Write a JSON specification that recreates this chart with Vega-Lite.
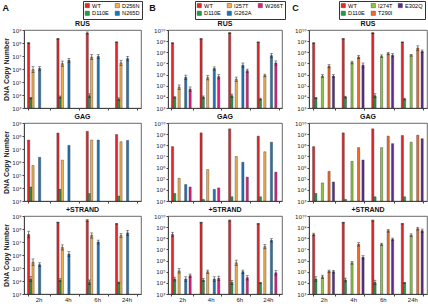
{
"$schema":"https://vega.github.io/schema/vega-lite/v6.json",
"padding":{"left":2,"right":3,"top":0,"bottom":1},
"spacing":6,
"resolve":{"scale":{"color":"independent"},"legend":{"color":"independent"}},
"datasets":{
"A":[
{"t":"RUS","h":"2h","m":"WT","v":1.0e8,"lo":8.9e7,"hi":1.12e8},
{"t":"RUS","h":"2h","m":"D110E","v":5.8e3,"lo":5.05e3,"hi":6.66e3},
{"t":"RUS","h":"2h","m":"D256N","v":9e5,"lo":5.4e5,"hi":1.5e6},
{"t":"RUS","h":"2h","m":"N265D","v":1.1e6,"lo":7.8e5,"hi":1.55e6},
{"t":"RUS","h":"4h","m":"WT","v":2.1e8,"lo":1.96e8,"hi":2.25e8},
{"t":"RUS","h":"4h","m":"D110E","v":7e3,"lo":5.8e3,"hi":8.4e3},
{"t":"RUS","h":"4h","m":"D256N","v":2.6e6,"lo":1.64e6,"hi":4.1e6},
{"t":"RUS","h":"4h","m":"N265D","v":4.7e6,"lo":3.3e6,"hi":6.6e6},
{"t":"RUS","h":"6h","m":"WT","v":5.9e8,"lo":4.9e8,"hi":7.1e8},
{"t":"RUS","h":"6h","m":"D110E","v":8.7e3,"lo":6.2e3,"hi":1.23e4},
{"t":"RUS","h":"6h","m":"D256N","v":8.3e6,"lo":5.2e6,"hi":1.3e7},
{"t":"RUS","h":"6h","m":"N265D","v":9.3e6,"lo":6.6e6,"hi":1.3e7},
{"t":"RUS","h":"24h","m":"WT","v":1.15e8,"lo":1.07e8,"hi":1.23e8},
{"t":"RUS","h":"24h","m":"D110E","v":4.8e3,"lo":3.8e3,"hi":6e3},
{"t":"RUS","h":"24h","m":"D256N","v":3e6,"lo":1.9e6,"hi":4.75e6},
{"t":"RUS","h":"24h","m":"N265D","v":6.3e6,"lo":4.3e6,"hi":9.3e6},
{"t":"GAG","h":"2h","m":"WT","v":4.9e7},
{"t":"GAG","h":"2h","m":"D110E","v":1.2e4},
{"t":"GAG","h":"2h","m":"D256N","v":5.4e5},
{"t":"GAG","h":"2h","m":"N265D","v":2.3e6},
{"t":"GAG","h":"4h","m":"WT","v":1.7e8},
{"t":"GAG","h":"4h","m":"D110E","v":8.1e3},
{"t":"GAG","h":"4h","m":"D256N","v":1.4e6},
{"t":"GAG","h":"4h","m":"N265D","v":1.9e7},
{"t":"GAG","h":"6h","m":"WT","v":2.3e8},
{"t":"GAG","h":"6h","m":"D110E","v":3.8e3},
{"t":"GAG","h":"6h","m":"D256N","v":4.9e7},
{"t":"GAG","h":"6h","m":"N265D","v":4.9e7},
{"t":"GAG","h":"24h","m":"WT","v":1.3e8},
{"t":"GAG","h":"24h","m":"D110E","v":2.4e3},
{"t":"GAG","h":"24h","m":"D256N","v":3.6e7},
{"t":"GAG","h":"24h","m":"N265D","v":4.6e7},
{"t":"STR","h":"2h","m":"WT","v":3.8e7,"lo":2.1e7,"hi":6.8e7},
{"t":"STR","h":"2h","m":"D110E","v":1.4e4,"lo":8.8e3,"hi":2.2e4},
{"t":"STR","h":"2h","m":"D256N","v":2.8e5,"lo":1.6e5,"hi":5e5},
{"t":"STR","h":"2h","m":"N265D","v":1.8e5,"lo":1.27e5,"hi":2.5e5},
{"t":"STR","h":"4h","m":"WT","v":3.2e8,"lo":3e8,"hi":3.4e8},
{"t":"STR","h":"4h","m":"D110E","v":1.2e4,"lo":9.5e3,"hi":1.5e4},
{"t":"STR","h":"4h","m":"D256N","v":3.8e6,"lo":2.4e6,"hi":6e6},
{"t":"STR","h":"4h","m":"N265D","v":1.2e6,"lo":8e5,"hi":1.8e6},
{"t":"STR","h":"6h","m":"WT","v":4.5e8,"lo":3.7e8,"hi":5.4e8},
{"t":"STR","h":"6h","m":"D110E","v":7.9e3,"lo":5.2e3,"hi":1.2e4},
{"t":"STR","h":"6h","m":"D256N","v":3.2e7,"lo":2e7,"hi":5e7},
{"t":"STR","h":"6h","m":"N265D","v":1e7,"lo":7e6,"hi":1.4e7},
{"t":"STR","h":"24h","m":"WT","v":2.5e8,"lo":2.4e8,"hi":2.6e8},
{"t":"STR","h":"24h","m":"D110E","v":7.5e3,"lo":6.7e3,"hi":8.4e3},
{"t":"STR","h":"24h","m":"D256N","v":3.2e7,"lo":2.3e7,"hi":4.5e7},
{"t":"STR","h":"24h","m":"N265D","v":5e7,"lo":3.2e7,"hi":8e7}
],
"B":[
{"t":"RUS","h":"2h","m":"WT","v":6.6e8,"lo":6e8,"hi":7.2e8},
{"t":"RUS","h":"2h","m":"D110E","v":9e3,"lo":7.8e3,"hi":1.03e4},
{"t":"RUS","h":"2h","m":"I257T","v":7.4e4,"lo":4.7e4,"hi":1.17e5},
{"t":"RUS","h":"2h","m":"G262A","v":5.6e5,"lo":3.5e5,"hi":8.9e5},
{"t":"RUS","h":"2h","m":"W266T","v":4.9e4,"lo":3.1e4,"hi":7.8e4},
{"t":"RUS","h":"4h","m":"WT","v":1.6e9,"lo":1.53e9,"hi":1.68e9},
{"t":"RUS","h":"4h","m":"D110E","v":9.5e3,"lo":7.5e3,"hi":1.2e4},
{"t":"RUS","h":"4h","m":"I257T","v":5.3e5,"lo":3.3e5,"hi":8.4e5},
{"t":"RUS","h":"4h","m":"G262A","v":3.5e6,"lo":2.5e6,"hi":4.9e6},
{"t":"RUS","h":"4h","m":"W266T","v":6.5e5,"lo":4.1e5,"hi":1e6},
{"t":"RUS","h":"6h","m":"WT","v":5.4e9,"lo":4.7e9,"hi":6.2e9},
{"t":"RUS","h":"6h","m":"D110E","v":1.26e4,"lo":8.9e3,"hi":1.8e4},
{"t":"RUS","h":"6h","m":"I257T","v":3.8e5,"lo":2.4e5,"hi":6e5},
{"t":"RUS","h":"6h","m":"G262A","v":6.9e6,"lo":4.4e6,"hi":1.1e7},
{"t":"RUS","h":"6h","m":"W266T","v":2.2e6,"lo":1.56e6,"hi":3.1e6},
{"t":"RUS","h":"24h","m":"WT","v":8.1e8,"lo":7.7e8,"hi":8.5e8},
{"t":"RUS","h":"24h","m":"D110E","v":6.3e3,"lo":5.2e3,"hi":7.6e3},
{"t":"RUS","h":"24h","m":"I257T","v":8.3e5,"lo":6.3e5,"hi":1.1e6},
{"t":"RUS","h":"24h","m":"G262A","v":5e7,"lo":3.2e7,"hi":7.9e7},
{"t":"RUS","h":"24h","m":"W266T","v":1.1e7,"lo":7e6,"hi":1.7e7},
{"t":"GAG","h":"2h","m":"WT","v":7.6e7},
{"t":"GAG","h":"2h","m":"D110E","v":4.8e3},
{"t":"GAG","h":"2h","m":"I257T","v":1.1e5},
{"t":"GAG","h":"2h","m":"G262A","v":3e4},
{"t":"GAG","h":"2h","m":"W266T","v":1.8e4},
{"t":"GAG","h":"4h","m":"WT","v":1.3e9},
{"t":"GAG","h":"4h","m":"D110E","v":1.4e3},
{"t":"GAG","h":"4h","m":"I257T","v":6.6e5},
{"t":"GAG","h":"4h","m":"G262A","v":1.1e4},
{"t":"GAG","h":"4h","m":"W266T","v":1.5e4},
{"t":"GAG","h":"6h","m":"WT","v":3e9},
{"t":"GAG","h":"6h","m":"D110E","v":2.4e3},
{"t":"GAG","h":"6h","m":"I257T","v":1e7},
{"t":"GAG","h":"6h","m":"G262A","v":3e6},
{"t":"GAG","h":"6h","m":"W266T","v":1.4e5},
{"t":"GAG","h":"24h","m":"WT","v":6.6e8},
{"t":"GAG","h":"24h","m":"D110E","v":2.4e3},
{"t":"GAG","h":"24h","m":"I257T","v":2.6e7},
{"t":"GAG","h":"24h","m":"G262A","v":1.9e8},
{"t":"GAG","h":"24h","m":"W266T","v":3.9e5},
{"t":"STR","h":"2h","m":"WT","v":2.2e8,"lo":1.4e8,"hi":3.5e8},
{"t":"STR","h":"2h","m":"D110E","v":2.2e4,"lo":1.45e4,"hi":3.3e4},
{"t":"STR","h":"2h","m":"I257T","v":1.2e5,"lo":7.6e4,"hi":1.9e5},
{"t":"STR","h":"2h","m":"G262A","v":2.2e4,"lo":1.4e4,"hi":3.5e4},
{"t":"STR","h":"2h","m":"W266T","v":4.4e4,"lo":3.1e4,"hi":6.2e4},
{"t":"STR","h":"4h","m":"WT","v":2.6e9,"lo":2.4e9,"hi":2.8e9},
{"t":"STR","h":"4h","m":"D110E","v":1.8e4,"lo":1.27e4,"hi":2.5e4},
{"t":"STR","h":"4h","m":"I257T","v":9.8e4,"lo":6.9e4,"hi":1.4e5},
{"t":"STR","h":"4h","m":"G262A","v":2.2e4,"lo":1.4e4,"hi":3.5e4},
{"t":"STR","h":"4h","m":"W266T","v":2.5e4,"lo":1.6e4,"hi":4e4},
{"t":"STR","h":"6h","m":"WT","v":3.9e9,"lo":3.5e9,"hi":4.4e9},
{"t":"STR","h":"6h","m":"D110E","v":1.1e4,"lo":7.3e3,"hi":1.66e4},
{"t":"STR","h":"6h","m":"I257T","v":6.3e5,"lo":3.5e5,"hi":1.1e6},
{"t":"STR","h":"6h","m":"G262A","v":1e5,"lo":7e4,"hi":1.4e5},
{"t":"STR","h":"6h","m":"W266T","v":2.9e4,"lo":1.8e4,"hi":4.6e4},
{"t":"STR","h":"24h","m":"WT","v":2e9,"lo":1.9e9,"hi":2.1e9},
{"t":"STR","h":"24h","m":"D110E","v":1e4,"lo":8.9e3,"hi":1.12e4},
{"t":"STR","h":"24h","m":"I257T","v":1.8e7,"lo":1.14e7,"hi":2.85e7},
{"t":"STR","h":"24h","m":"G262A","v":6.5e7,"lo":4.6e7,"hi":9.2e7},
{"t":"STR","h":"24h","m":"W266T","v":8e4,"lo":5e4,"hi":1.27e5}
],
"C":[
{"t":"RUS","h":"2h","m":"WT","v":6.6e8,"lo":6e8,"hi":7.2e8},
{"t":"RUS","h":"2h","m":"D110E","v":7.9e3,"lo":6.9e3,"hi":9e3},
{"t":"RUS","h":"2h","m":"I274T","v":7.4e5,"lo":5.6e5,"hi":9.8e5},
{"t":"RUS","h":"2h","m":"T290I","v":5.7e6,"lo":4e6,"hi":8e6},
{"t":"RUS","h":"2h","m":"E302Q","v":7.4e5,"lo":5.6e5,"hi":9.8e5},
{"t":"RUS","h":"4h","m":"WT","v":1.6e9,"lo":1.53e9,"hi":1.68e9},
{"t":"RUS","h":"4h","m":"D110E","v":9.5e3,"lo":7.9e3,"hi":1.14e4},
{"t":"RUS","h":"4h","m":"I274T","v":1.2e7,"lo":9.1e6,"hi":1.6e7},
{"t":"RUS","h":"4h","m":"T290I","v":3.8e7,"lo":2.7e7,"hi":5.4e7},
{"t":"RUS","h":"4h","m":"E302Q","v":6.9e6,"lo":4.4e6,"hi":1.1e7},
{"t":"RUS","h":"6h","m":"WT","v":5.4e9,"lo":4.7e9,"hi":6.2e9},
{"t":"RUS","h":"6h","m":"D110E","v":1.26e4,"lo":8.3e3,"hi":1.9e4},
{"t":"RUS","h":"6h","m":"I274T","v":4.4e7,"lo":3.3e7,"hi":5.8e7},
{"t":"RUS","h":"6h","m":"T290I","v":7.6e7,"lo":6e7,"hi":9.6e7},
{"t":"RUS","h":"6h","m":"E302Q","v":5.4e7,"lo":3.8e7,"hi":7.6e7},
{"t":"RUS","h":"24h","m":"WT","v":8.1e8,"lo":7.7e8,"hi":8.5e8},
{"t":"RUS","h":"24h","m":"D110E","v":6.3e3,"lo":5.2e3,"hi":7.6e3},
{"t":"RUS","h":"24h","m":"I274T","v":5.4e7,"lo":4.5e7,"hi":6.5e7},
{"t":"RUS","h":"24h","m":"T290I","v":2.4e8,"lo":1.5e8,"hi":3.8e8},
{"t":"RUS","h":"24h","m":"E302Q","v":1.2e8,"lo":9.1e7,"hi":1.6e8},
{"t":"GAG","h":"2h","m":"WT","v":7.6e7},
{"t":"GAG","h":"2h","m":"D110E","v":4.8e3},
{"t":"GAG","h":"2h","m":"I274T","v":4.2e4},
{"t":"GAG","h":"2h","m":"T290I","v":4.5e5},
{"t":"GAG","h":"2h","m":"E302Q","v":5.1e4},
{"t":"GAG","h":"4h","m":"WT","v":1.3e9},
{"t":"GAG","h":"4h","m":"D110E","v":1.4e3},
{"t":"GAG","h":"4h","m":"I274T","v":3.6e6},
{"t":"GAG","h":"4h","m":"T290I","v":6.2e7},
{"t":"GAG","h":"4h","m":"E302Q","v":4.8e6},
{"t":"GAG","h":"6h","m":"WT","v":3e9},
{"t":"GAG","h":"6h","m":"D110E","v":2.4e3},
{"t":"GAG","h":"6h","m":"I274T","v":6.2e7},
{"t":"GAG","h":"6h","m":"T290I","v":6.6e8},
{"t":"GAG","h":"6h","m":"E302Q","v":1.4e8},
{"t":"GAG","h":"24h","m":"WT","v":7.6e8},
{"t":"GAG","h":"24h","m":"D110E","v":2.4e3},
{"t":"GAG","h":"24h","m":"I274T","v":1.9e8},
{"t":"GAG","h":"24h","m":"T290I","v":8.1e8},
{"t":"GAG","h":"24h","m":"E302Q","v":3.9e8},
{"t":"STR","h":"2h","m":"WT","v":2.2e8,"lo":1.67e8,"hi":2.9e8},
{"t":"STR","h":"2h","m":"D110E","v":2.2e4,"lo":1.4e4,"hi":3.5e4},
{"t":"STR","h":"2h","m":"I274T","v":3.5e4,"lo":2.5e4,"hi":4.9e4},
{"t":"STR","h":"2h","m":"T290I","v":1.1e5,"lo":8.7e4,"hi":1.4e5},
{"t":"STR","h":"2h","m":"E302Q","v":1e5,"lo":7.6e4,"hi":1.3e5},
{"t":"STR","h":"4h","m":"WT","v":2.6e9,"lo":2.4e9,"hi":2.8e9},
{"t":"STR","h":"4h","m":"D110E","v":1.8e4,"lo":1.2e4,"hi":2.7e4},
{"t":"STR","h":"4h","m":"I274T","v":6.3e5,"lo":4.8e5,"hi":8.3e5},
{"t":"STR","h":"4h","m":"T290I","v":2.9e7,"lo":2e7,"hi":4.1e7},
{"t":"STR","h":"4h","m":"E302Q","v":2e6,"lo":1.4e6,"hi":2.8e6},
{"t":"STR","h":"6h","m":"WT","v":3.9e9,"lo":3.5e9,"hi":4.4e9},
{"t":"STR","h":"6h","m":"D110E","v":1.1e4,"lo":7e3,"hi":1.74e4},
{"t":"STR","h":"6h","m":"I274T","v":2.9e7,"lo":2.3e7,"hi":3.65e7},
{"t":"STR","h":"6h","m":"T290I","v":4.8e8,"lo":3.6e8,"hi":6.3e8},
{"t":"STR","h":"6h","m":"E302Q","v":8e7,"lo":6.1e7,"hi":1.05e8},
{"t":"STR","h":"24h","m":"WT","v":2e9,"lo":1.9e9,"hi":2.1e9},
{"t":"STR","h":"24h","m":"D110E","v":1e4,"lo":8.9e3,"hi":1.12e4},
{"t":"STR","h":"24h","m":"I274T","v":1.9e8,"lo":1.44e8,"hi":2.5e8},
{"t":"STR","h":"24h","m":"T290I","v":7.2e8,"lo":5.5e8,"hi":9.5e8},
{"t":"STR","h":"24h","m":"E302Q","v":4.8e8,"lo":3.4e8,"hi":6.8e8}
]
},
"hconcat":[
{"title":{"text":"A","anchor":"start","fontSize":9,"fontWeight":"bold","dx":0,"offset":-12},
 "spacing":0,
 "vconcat":[
  {"title":"RUS","width":117,"height":78,"data":{"name":"A"},"transform":[{"filter":"datum.t=='RUS'"}],
   "encoding":{"x":{"field":"h","type":"nominal","sort":["2h","4h","6h","24h"],"scale":{"paddingInner":0.25,"paddingOuter":0.12},"axis":{"labels":false}},
     "xOffset":{"field":"m","type":"nominal","sort":["WT","D110E","D256N","N265D"]}},
   "layer":[
    {"mark":{"type":"bar","stroke":"#333","strokeWidth":0.4},"encoding":{
      "y":{"field":"v","type":"quantitative","scale":{"type":"log","domain":[1000,1e9],"nice":false},"axis":{"title":"DNA Copy Number","values":[1e3,1e4,1e5,1e6,1e7,1e8,1e9]}},
      "y2":{"datum":1000},
      "color":{"field":"m","type":"nominal","scale":{"domain":["WT","D110E","D256N","N265D"],"range":["#E3262B","#1A9E4B","#F7B04B","#1C75BC"]},"legend":{"title":null,"columns":2,"legendX":59,"legendY":-29}}}},
    {"mark":{"type":"rule","color":"#222","strokeWidth":0.6},"encoding":{"y":{"field":"lo","type":"quantitative","scale":{"type":"log","domain":[1000,1e9],"nice":false},"axis":{"title":"DNA Copy Number","values":[1e3,1e4,1e5,1e6,1e7,1e8,1e9]}},"y2":{"field":"hi"}}},
    {"mark":{"type":"tick","color":"#222","size":3,"thickness":0.6},"encoding":{"y":{"field":"lo","type":"quantitative","scale":{"type":"log","domain":[1000,1e9],"nice":false},"axis":{"title":"DNA Copy Number","values":[1e3,1e4,1e5,1e6,1e7,1e8,1e9]}}}},
    {"mark":{"type":"tick","color":"#222","size":3,"thickness":0.6},"encoding":{"y":{"field":"hi","type":"quantitative","scale":{"type":"log","domain":[1000,1e9],"nice":false},"axis":{"title":"DNA Copy Number","values":[1e3,1e4,1e5,1e6,1e7,1e8,1e9]}}}}
   ]},
  {"title":"GAG","width":117,"height":78,"data":{"name":"A"},"transform":[{"filter":"datum.t=='GAG'"}],
   "encoding":{"x":{"field":"h","type":"nominal","sort":["2h","4h","6h","24h"],"scale":{"paddingInner":0.25,"paddingOuter":0.12},"axis":{"labels":false}},
     "xOffset":{"field":"m","type":"nominal","sort":["WT","D110E","D256N","N265D"]}},
   "layer":[
    {"mark":{"type":"bar","stroke":"#333","strokeWidth":0.4},"encoding":{
      "y":{"field":"v","type":"quantitative","scale":{"type":"log","domain":[1000,1e9],"nice":false},"axis":{"title":"DNA Copy Number","values":[1e3,1e4,1e5,1e6,1e7,1e8,1e9]}},
      "y2":{"datum":1000},
      "color":{"field":"m","type":"nominal","scale":{"domain":["WT","D110E","D256N","N265D"],"range":["#E3262B","#1A9E4B","#F7B04B","#1C75BC"]},"legend":{"title":null,"columns":2,"legendX":59,"legendY":-29}}}}
   ]},
  {"title":"+STRAND","width":117,"height":78,"data":{"name":"A"},"transform":[{"filter":"datum.t=='STR'"}],
   "encoding":{"x":{"field":"h","type":"nominal","sort":["2h","4h","6h","24h"],"scale":{"paddingInner":0.25,"paddingOuter":0.12},"axis":{"labels":true}},
     "xOffset":{"field":"m","type":"nominal","sort":["WT","D110E","D256N","N265D"]}},
   "layer":[
    {"mark":{"type":"bar","stroke":"#333","strokeWidth":0.4},"encoding":{
      "y":{"field":"v","type":"quantitative","scale":{"type":"log","domain":[1000,1e9],"nice":false},"axis":{"title":"DNA Copy Number","values":[1e3,1e4,1e5,1e6,1e7,1e8,1e9]}},
      "y2":{"datum":1000},
      "color":{"field":"m","type":"nominal","scale":{"domain":["WT","D110E","D256N","N265D"],"range":["#E3262B","#1A9E4B","#F7B04B","#1C75BC"]},"legend":{"title":null,"columns":2,"legendX":59,"legendY":-29}}}},
    {"mark":{"type":"rule","color":"#222","strokeWidth":0.6},"encoding":{"y":{"field":"lo","type":"quantitative","scale":{"type":"log","domain":[1000,1e9],"nice":false},"axis":{"title":"DNA Copy Number","values":[1e3,1e4,1e5,1e6,1e7,1e8,1e9]}},"y2":{"field":"hi"}}},
    {"mark":{"type":"tick","color":"#222","size":3,"thickness":0.6},"encoding":{"y":{"field":"lo","type":"quantitative","scale":{"type":"log","domain":[1000,1e9],"nice":false},"axis":{"title":"DNA Copy Number","values":[1e3,1e4,1e5,1e6,1e7,1e8,1e9]}}}},
    {"mark":{"type":"tick","color":"#222","size":3,"thickness":0.6},"encoding":{"y":{"field":"hi","type":"quantitative","scale":{"type":"log","domain":[1000,1e9],"nice":false},"axis":{"title":"DNA Copy Number","values":[1e3,1e4,1e5,1e6,1e7,1e8,1e9]}}}}
   ]}
 ]},
{"title":{"text":"B","anchor":"start","fontSize":9,"fontWeight":"bold","dx":-4,"offset":-12},
 "spacing":0,
 "vconcat":[
  {"title":"RUS","width":114,"height":78,"data":{"name":"B"},"transform":[{"filter":"datum.t=='RUS'"}],
   "encoding":{"x":{"field":"h","type":"nominal","sort":["2h","4h","6h","24h"],"scale":{"paddingInner":0.25,"paddingOuter":0.12},"axis":{"labels":false}},
     "xOffset":{"field":"m","type":"nominal","sort":["WT","D110E","I257T","G262A","W266T"]}},
   "layer":[
    {"mark":{"type":"bar","stroke":"#333","strokeWidth":0.4},"encoding":{
      "y":{"field":"v","type":"quantitative","scale":{"type":"log","domain":[1000,1e10],"nice":false},"axis":{"title":null,"values":[1e3,1e4,1e5,1e6,1e7,1e8,1e9,1e10]}},
      "y2":{"datum":1000},
      "color":{"field":"m","type":"nominal","scale":{"domain":["WT","D110E","I257T","G262A","W266T"],"range":["#E3262B","#1A9E4B","#F7B04B","#1C75BC","#E6197F"]},"legend":{"title":null,"columns":3,"legendX":27,"legendY":-29}}}},
    {"mark":{"type":"rule","color":"#222","strokeWidth":0.6},"encoding":{"y":{"field":"lo","type":"quantitative","scale":{"type":"log","domain":[1000,1e10],"nice":false},"axis":{"title":null,"values":[1e3,1e4,1e5,1e6,1e7,1e8,1e9,1e10]}},"y2":{"field":"hi"}}},
    {"mark":{"type":"tick","color":"#222","size":3,"thickness":0.6},"encoding":{"y":{"field":"lo","type":"quantitative","scale":{"type":"log","domain":[1000,1e10],"nice":false},"axis":{"title":null,"values":[1e3,1e4,1e5,1e6,1e7,1e8,1e9,1e10]}}}},
    {"mark":{"type":"tick","color":"#222","size":3,"thickness":0.6},"encoding":{"y":{"field":"hi","type":"quantitative","scale":{"type":"log","domain":[1000,1e10],"nice":false},"axis":{"title":null,"values":[1e3,1e4,1e5,1e6,1e7,1e8,1e9,1e10]}}}}
   ]},
  {"title":"GAG","width":114,"height":78,"data":{"name":"B"},"transform":[{"filter":"datum.t=='GAG'"}],
   "encoding":{"x":{"field":"h","type":"nominal","sort":["2h","4h","6h","24h"],"scale":{"paddingInner":0.25,"paddingOuter":0.12},"axis":{"labels":false}},
     "xOffset":{"field":"m","type":"nominal","sort":["WT","D110E","I257T","G262A","W266T"]}},
   "layer":[
    {"mark":{"type":"bar","stroke":"#333","strokeWidth":0.4},"encoding":{
      "y":{"field":"v","type":"quantitative","scale":{"type":"log","domain":[1000,1e10],"nice":false},"axis":{"title":null,"values":[1e3,1e4,1e5,1e6,1e7,1e8,1e9,1e10]}},
      "y2":{"datum":1000},
      "color":{"field":"m","type":"nominal","scale":{"domain":["WT","D110E","I257T","G262A","W266T"],"range":["#E3262B","#1A9E4B","#F7B04B","#1C75BC","#E6197F"]},"legend":{"title":null,"columns":3,"legendX":27,"legendY":-29}}}}
   ]},
  {"title":"+STRAND","width":114,"height":78,"data":{"name":"B"},"transform":[{"filter":"datum.t=='STR'"}],
   "encoding":{"x":{"field":"h","type":"nominal","sort":["2h","4h","6h","24h"],"scale":{"paddingInner":0.25,"paddingOuter":0.12},"axis":{"labels":true}},
     "xOffset":{"field":"m","type":"nominal","sort":["WT","D110E","I257T","G262A","W266T"]}},
   "layer":[
    {"mark":{"type":"bar","stroke":"#333","strokeWidth":0.4},"encoding":{
      "y":{"field":"v","type":"quantitative","scale":{"type":"log","domain":[1000,1e10],"nice":false},"axis":{"title":null,"values":[1e3,1e4,1e5,1e6,1e7,1e8,1e9,1e10]}},
      "y2":{"datum":1000},
      "color":{"field":"m","type":"nominal","scale":{"domain":["WT","D110E","I257T","G262A","W266T"],"range":["#E3262B","#1A9E4B","#F7B04B","#1C75BC","#E6197F"]},"legend":{"title":null,"columns":3,"legendX":27,"legendY":-29}}}},
    {"mark":{"type":"rule","color":"#222","strokeWidth":0.6},"encoding":{"y":{"field":"lo","type":"quantitative","scale":{"type":"log","domain":[1000,1e10],"nice":false},"axis":{"title":null,"values":[1e3,1e4,1e5,1e6,1e7,1e8,1e9,1e10]}},"y2":{"field":"hi"}}},
    {"mark":{"type":"tick","color":"#222","size":3,"thickness":0.6},"encoding":{"y":{"field":"lo","type":"quantitative","scale":{"type":"log","domain":[1000,1e10],"nice":false},"axis":{"title":null,"values":[1e3,1e4,1e5,1e6,1e7,1e8,1e9,1e10]}}}},
    {"mark":{"type":"tick","color":"#222","size":3,"thickness":0.6},"encoding":{"y":{"field":"hi","type":"quantitative","scale":{"type":"log","domain":[1000,1e10],"nice":false},"axis":{"title":null,"values":[1e3,1e4,1e5,1e6,1e7,1e8,1e9,1e10]}}}}
   ]}
 ]},
{"title":{"text":"C","anchor":"start","fontSize":9,"fontWeight":"bold","dx":-2,"offset":-12},
 "spacing":0,
 "vconcat":[
  {"title":"RUS","width":118,"height":78,"data":{"name":"C"},"transform":[{"filter":"datum.t=='RUS'"}],
   "encoding":{"x":{"field":"h","type":"nominal","sort":["2h","4h","6h","24h"],"scale":{"paddingInner":0.25,"paddingOuter":0.12},"axis":{"labels":false}},
     "xOffset":{"field":"m","type":"nominal","sort":["WT","D110E","I274T","T290I","E302Q"]}},
   "layer":[
    {"mark":{"type":"bar","stroke":"#333","strokeWidth":0.4},"encoding":{
      "y":{"field":"v","type":"quantitative","scale":{"type":"log","domain":[1000,1e10],"nice":false},"axis":{"title":null,"values":[1e3,1e4,1e5,1e6,1e7,1e8,1e9,1e10]}},
      "y2":{"datum":1000},
      "color":{"field":"m","type":"nominal","scale":{"domain":["WT","D110E","I274T","T290I","E302Q"],"range":["#E3262B","#1A9E4B","#8DC63F","#F26B2A","#5B2D90"]},"legend":{"title":null,"columns":3,"legendX":30,"legendY":-29}}}},
    {"mark":{"type":"rule","color":"#222","strokeWidth":0.6},"encoding":{"y":{"field":"lo","type":"quantitative","scale":{"type":"log","domain":[1000,1e10],"nice":false},"axis":{"title":null,"values":[1e3,1e4,1e5,1e6,1e7,1e8,1e9,1e10]}},"y2":{"field":"hi"}}},
    {"mark":{"type":"tick","color":"#222","size":3,"thickness":0.6},"encoding":{"y":{"field":"lo","type":"quantitative","scale":{"type":"log","domain":[1000,1e10],"nice":false},"axis":{"title":null,"values":[1e3,1e4,1e5,1e6,1e7,1e8,1e9,1e10]}}}},
    {"mark":{"type":"tick","color":"#222","size":3,"thickness":0.6},"encoding":{"y":{"field":"hi","type":"quantitative","scale":{"type":"log","domain":[1000,1e10],"nice":false},"axis":{"title":null,"values":[1e3,1e4,1e5,1e6,1e7,1e8,1e9,1e10]}}}}
   ]},
  {"title":"GAG","width":118,"height":78,"data":{"name":"C"},"transform":[{"filter":"datum.t=='GAG'"}],
   "encoding":{"x":{"field":"h","type":"nominal","sort":["2h","4h","6h","24h"],"scale":{"paddingInner":0.25,"paddingOuter":0.12},"axis":{"labels":false}},
     "xOffset":{"field":"m","type":"nominal","sort":["WT","D110E","I274T","T290I","E302Q"]}},
   "layer":[
    {"mark":{"type":"bar","stroke":"#333","strokeWidth":0.4},"encoding":{
      "y":{"field":"v","type":"quantitative","scale":{"type":"log","domain":[1000,1e10],"nice":false},"axis":{"title":null,"values":[1e3,1e4,1e5,1e6,1e7,1e8,1e9,1e10]}},
      "y2":{"datum":1000},
      "color":{"field":"m","type":"nominal","scale":{"domain":["WT","D110E","I274T","T290I","E302Q"],"range":["#E3262B","#1A9E4B","#8DC63F","#F26B2A","#5B2D90"]},"legend":{"title":null,"columns":3,"legendX":30,"legendY":-29}}}}
   ]},
  {"title":"+STRAND","width":118,"height":78,"data":{"name":"C"},"transform":[{"filter":"datum.t=='STR'"}],
   "encoding":{"x":{"field":"h","type":"nominal","sort":["2h","4h","6h","24h"],"scale":{"paddingInner":0.25,"paddingOuter":0.12},"axis":{"labels":true}},
     "xOffset":{"field":"m","type":"nominal","sort":["WT","D110E","I274T","T290I","E302Q"]}},
   "layer":[
    {"mark":{"type":"bar","stroke":"#333","strokeWidth":0.4},"encoding":{
      "y":{"field":"v","type":"quantitative","scale":{"type":"log","domain":[1000,1e10],"nice":false},"axis":{"title":null,"values":[1e3,1e4,1e5,1e6,1e7,1e8,1e9,1e10]}},
      "y2":{"datum":1000},
      "color":{"field":"m","type":"nominal","scale":{"domain":["WT","D110E","I274T","T290I","E302Q"],"range":["#E3262B","#1A9E4B","#8DC63F","#F26B2A","#5B2D90"]},"legend":{"title":null,"columns":3,"legendX":30,"legendY":-29}}}},
    {"mark":{"type":"rule","color":"#222","strokeWidth":0.6},"encoding":{"y":{"field":"lo","type":"quantitative","scale":{"type":"log","domain":[1000,1e10],"nice":false},"axis":{"title":null,"values":[1e3,1e4,1e5,1e6,1e7,1e8,1e9,1e10]}},"y2":{"field":"hi"}}},
    {"mark":{"type":"tick","color":"#222","size":3,"thickness":0.6},"encoding":{"y":{"field":"lo","type":"quantitative","scale":{"type":"log","domain":[1000,1e10],"nice":false},"axis":{"title":null,"values":[1e3,1e4,1e5,1e6,1e7,1e8,1e9,1e10]}}}},
    {"mark":{"type":"tick","color":"#222","size":3,"thickness":0.6},"encoding":{"y":{"field":"hi","type":"quantitative","scale":{"type":"log","domain":[1000,1e10],"nice":false},"axis":{"title":null,"values":[1e3,1e4,1e5,1e6,1e7,1e8,1e9,1e10]}}}}
   ]}
 ]}
],
"config":{
 "font":"Liberation Sans",
 "view":{"stroke":"#444","strokeWidth":0.8},
 "title":{"fontSize":7,"fontWeight":"bold","offset":1,"color":"#111"},
 "axis":{"grid":false,"domainColor":"#444","tickColor":"#444","labelColor":"#222","labelFont":"DejaVu Sans","labelFontSize":5.5,"tickSize":2,"labelPadding":1,"titleFontSize":7,"titleFontWeight":"bold","titlePadding":2,"titleColor":"#222"},
 "axisY":{"labelExpr":"'10' + (round(log(datum.value)/LN10) == 10 ? '¹⁰' : ['⁰','¹','²','³','⁴','⁵','⁶','⁷','⁸','⁹'][round(log(datum.value)/LN10)])"},
 "axisX":{"title":null,"labelAngle":0,"tickBand":"extent","tickSize":2,"labelPadding":0,"labelFontSize":6,"labelFont":"Liberation Sans"},
 "legend":{"orient":"none","symbolType":"square","symbolSize":18,"symbolStrokeColor":"#333","symbolStrokeWidth":0.4,"labelFontSize":5.6,"labelFont":"Liberation Sans","strokeColor":"#333","padding":1.5,"rowPadding":0,"columnPadding":4,"labelOffset":2}
}
}
